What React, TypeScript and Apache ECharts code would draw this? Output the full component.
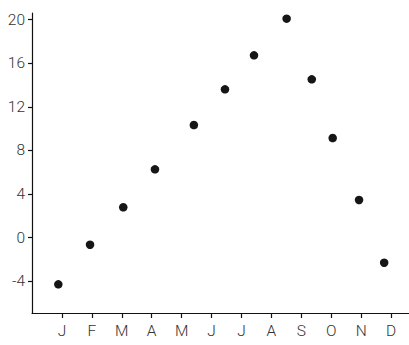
import React, { useEffect, useRef } from "react";
import * as echarts from "echarts";

const monthLabels = ["J", "F", "M", "A", "M", "J", "J", "A", "S", "O", "N", "D"];
const monthTicks = [1, 2, 3, 4, 5, 6, 7, 8, 9, 10, 11, 12];
const yTicks = [-4, 0, 4, 8, 12, 16, 20];
const pointX = [0.88, 1.94, 3.05, 4.11, 5.41, 6.45, 7.42, 8.51, 9.35, 10.05, 10.93, 11.77];
const pointY = [-4.27, -0.64, 2.79, 6.27, 10.33, 13.6, 16.72, 20.08, 14.52, 9.14, 3.46, -2.29];

export default function App() {
  const ref = useRef<HTMLDivElement>(null);
  useEffect(() => {
    if (!ref.current) return;
    const chart = echarts.init(ref.current, null, { renderer: "svg" });
    const textStyle = {
      color: "#333",
      fontSize: 15.5,
      fontWeight: 300,
      fontFamily: "Roboto, Liberation Sans, Arial, sans-serif",
    };
    const lineStyle = { color: "#111", width: 1.2 };
    chart.setOption({
      animation: false,
      grid: { left: 32, right: 0, top: 13, bottom: 32, containLabel: false },
      xAxis: {
        type: "value",
        min: 0,
        max: 12.6,
        splitLine: { show: false },
        axisLine: { show: true, onZero: false, lineStyle },
        axisTick: { show: true, length: 5, customValues: monthTicks, lineStyle },
        axisLabel: {
          ...textStyle,
          margin: 10,
          customValues: monthTicks,
          formatter: (v: number) => monthLabels[Math.round(v) - 1] ?? "",
        },
      },
      yAxis: {
        type: "value",
        min: -6.9,
        max: 20.6,
        splitLine: { show: false },
        axisLine: { show: true, onZero: false, lineStyle },
        axisTick: { show: true, length: 4, customValues: yTicks, lineStyle },
        axisLabel: {
          ...textStyle,
          margin: 7,
          customValues: yTicks,
          formatter: (v: number) => String(Math.round(v)),
        },
      },
      series: [
        {
          type: "scatter",
          symbol: "circle",
          symbolSize: 8.5,
          itemStyle: { color: "#161616", opacity: 1 },
          data: pointX.map((x, i) => [x, pointY[i]]),
        },
      ],
    });
    return () => chart.dispose();
  }, []);
  return (
    <div
      ref={ref}
      style={{ position: "absolute", left: 0, top: 0, width: 409, height: 345, background: "#fff" }}
    />
  );
}
